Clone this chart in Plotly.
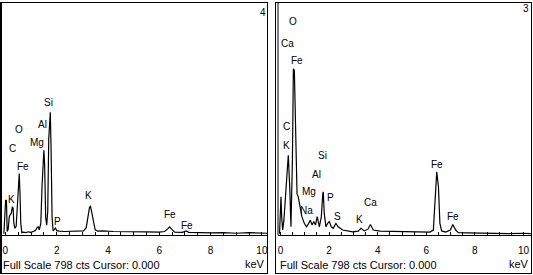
import plotly.graph_objects as go

W, H = 533, 275

# ---------------- data ----------------
full_scale = 798
panel_ids = ["4", "3"]

left_energy = [-0.06, -0.02, 0.01, 0.04, 0.07, 0.11, 0.15, 0.19, 0.23, 0.27, 0.30, 0.33, 0.37, 0.42,
               0.47, 0.51, 0.54, 0.57, 0.60, 0.64, 0.70, 0.80, 0.90, 1.00, 1.10, 1.17, 1.24, 1.28,
               1.32, 1.38, 1.43, 1.47, 1.50, 1.53, 1.57, 1.61, 1.65, 1.69, 1.72, 1.75, 1.78, 1.82,
               1.86, 1.91, 1.95, 2.00, 2.10, 2.30, 2.60, 2.90, 3.05, 3.15, 3.22, 3.28, 3.32, 3.36,
               3.40, 3.45, 3.50, 3.60, 3.80, 4.20, 4.60, 5.00, 5.50, 6.00, 6.20, 6.32, 6.40, 6.48,
               6.60, 6.90, 7.05, 7.15, 7.50, 8.00, 8.50, 9.00, 9.50, 10.00, 10.20]
left_counts = [4, 60, 120, 118, 12, 20, 62, 70, 75, 97, 92, 40, 23, 30,
               110, 205, 211, 140, 40, 8, 10, 8, 11, 9, 12, 15, 26, 28,
               18, 40, 170, 280, 291, 240, 60, 34, 80, 330, 415, 421, 300, 60,
               14, 20, 24, 15, 13, 12, 13, 12, 14, 25, 70, 95, 98, 80,
               55, 40, 18, 13, 14, 12, 11, 10, 11, 10, 12, 20, 28, 20,
               10, 9, 14, 9, 8, 7, 8, 6, 8, 6, 6]

right_energy = [-0.04, 0.00, 0.02, 0.05, 0.09, 0.14, 0.185, 0.27, 0.32, 0.38, 0.43, 0.49, 0.53,
                0.57, 0.60, 0.64, 0.68, 0.73, 0.80, 0.88, 0.98, 1.07, 1.16, 1.23, 1.30, 1.37,
                1.44, 1.51, 1.60, 1.68, 1.74, 1.76, 1.80, 1.87, 1.94, 2.01, 2.09, 2.17, 2.28,
                2.37, 2.56, 2.97, 3.20, 3.31, 3.45, 3.60, 3.70, 3.82, 4.10, 4.60, 5.20, 5.80,
                6.15, 6.29, 6.36, 6.43, 6.50, 6.56, 6.63, 6.80, 6.99, 7.09, 7.21, 7.32, 7.70,
                8.20, 8.80, 9.40, 10.00, 10.30]
right_counts = [4, 60, 131, 60, 17, 50, 108, 199, 274, 165, 28, 257, 570,
                565, 450, 199, 142, 131, 97, 63, 40, 28, 40, 51, 34, 46,
                34, 63, 28, 63, 142, 148, 74, 28, 40, 46, 28, 23, 40,
                28, 17, 11, 13, 23, 14, 20, 36, 17, 13, 12, 11, 11,
                10, 17, 131, 217, 165, 40, 14, 10, 17, 36, 17, 8, 7,
                6, 7, 5, 6, 5]

left_peak_labels = ["Si", "Al", "O", "Mg", "C", "Fe", "K", "P", "K", "Fe", "Fe"]
right_peak_labels = ["O", "Ca", "Fe", "C", "K", "Si", "Al", "Mg", "P", "Na", "S", "K", "Ca", "Fe", "Fe"]
tick_values = [i * 0.5 for i in range(21)]
tick_labels = [str(int(v)) if v % 2 == 0 else "" for v in tick_values]
footer_text = "Full Scale 798 cts Cursor: 0.000"
unit_text = "keV"

# ---------------- layout helpers (pixel positions) ----------------
def fx(x):
    return x / W

def fy(y):
    return 1 - y / H

left_label_px = [(48, 103), (42, 124), (19, 130), (37, 142), (12, 148), (23, 166), (11, 199),
                 (57, 221), (88, 195), (170, 214), (187, 225)]
right_label_px = [(293, 22), (287, 43), (297, 61), (286, 126), (286, 145), (322, 155), (316, 174),
                  (309, 191), (330, 197), (306, 210), (337, 216), (359, 219), (370, 202),
                  (437, 164), (453, 216)]

FONT = "Liberation Sans, Arial, sans-serif"

fig = go.Figure()
fig.add_trace(go.Scatter(x=left_energy, y=left_counts, mode="lines",
                         line=dict(color="black", width=1.2), xaxis="x", yaxis="y",
                         showlegend=False, hoverinfo="skip"))
fig.add_trace(go.Scatter(x=right_energy, y=right_counts, mode="lines",
                         line=dict(color="black", width=1.2), xaxis="x2", yaxis="y2",
                         showlegend=False, hoverinfo="skip"))

# left panel: 0 keV at px 5.4, 25.65 px/keV ; right: 0 keV at px 280.5, 24.3 px/keV
l0, lk = 5.4, 25.65
r0, rk = 280.5, 24.3
lx0, lx1 = 2, 268
rx0, rx1 = 278, 531.5
ytop, ybase = 2.5, 235

xcommon = dict(showline=True, linecolor="black", linewidth=1, ticks="inside", ticklen=3,
               tickcolor="black", tickwidth=1, tickvals=tick_values, ticktext=tick_labels,
               showgrid=False, zeroline=False, tickfont=dict(family=FONT, size=10, color="black"),
               ticklabelstandoff=6, fixedrange=True)
ycommon = dict(showline=False, showticklabels=False, ticks="", showgrid=False, zeroline=False,
               range=[0, full_scale], domain=[fy(ybase), fy(ytop)], fixedrange=True)

fig.update_layout(
    width=W, height=H, margin=dict(l=0, r=0, t=0, b=0),
    paper_bgcolor="white", plot_bgcolor="white",
    xaxis=dict(domain=[fx(lx0), fx(lx1)], range=[(lx0 - l0) / lk, (lx1 - l0) / lk], anchor="y", **xcommon),
    yaxis=dict(anchor="x", **ycommon),
    xaxis2=dict(domain=[fx(rx0), fx(rx1)], range=[(rx0 - r0) / rk, (rx1 - r0) / rk], anchor="y2", **xcommon),
    yaxis2=dict(anchor="x2", **ycommon),
)

shapes = []
def line(x0, y0, x1, y1, w=1):
    shapes.append(dict(type="line", xref="paper", yref="paper", x0=fx(x0), y0=fy(y0),
                       x1=fx(x1), y1=fy(y1), line=dict(color="black", width=w)))

# left panel frame
line(1, 2, 1, 274, 2)
line(0, 2.5, 268, 2.5)
line(267.5, 2, 267.5, 274)
line(0, 273.5, 268, 273.5)
# right panel frame
line(275.5, 2, 275.5, 274)
line(278, 2, 278, 235)
line(275, 2.5, 532, 2.5)
line(531.5, 2, 531.5, 274)
line(275, 273.5, 532, 273.5)
fig.update_layout(shapes=shapes)

ann = []
def text(t, x, y, xanchor="center", size=10):
    ann.append(dict(text=t, x=fx(x), y=fy(y), xref="paper", yref="paper", showarrow=False,
                    xanchor=xanchor, yanchor="middle", font=dict(family=FONT, size=size, color="black")))

for t, (x, y) in zip(left_peak_labels, left_label_px):
    text(t, x, y)
for t, (x, y) in zip(right_peak_labels, right_label_px):
    text(t, x, y)

text(panel_ids[0], 263, 12)
text(panel_ids[1], 526, 9)
text(footer_text, 1, 265, "left", 11)
text(footer_text, 278, 265, "left", 11)
text(unit_text, 267, 264, "right", 11)
text(unit_text, 531, 264, "right", 11)
fig.update_layout(annotations=ann)

fig.write_html("out.html", config={"displayModeBar": False},
               post_script="document.body.style.margin='0';document.body.style.overflow='hidden';")
